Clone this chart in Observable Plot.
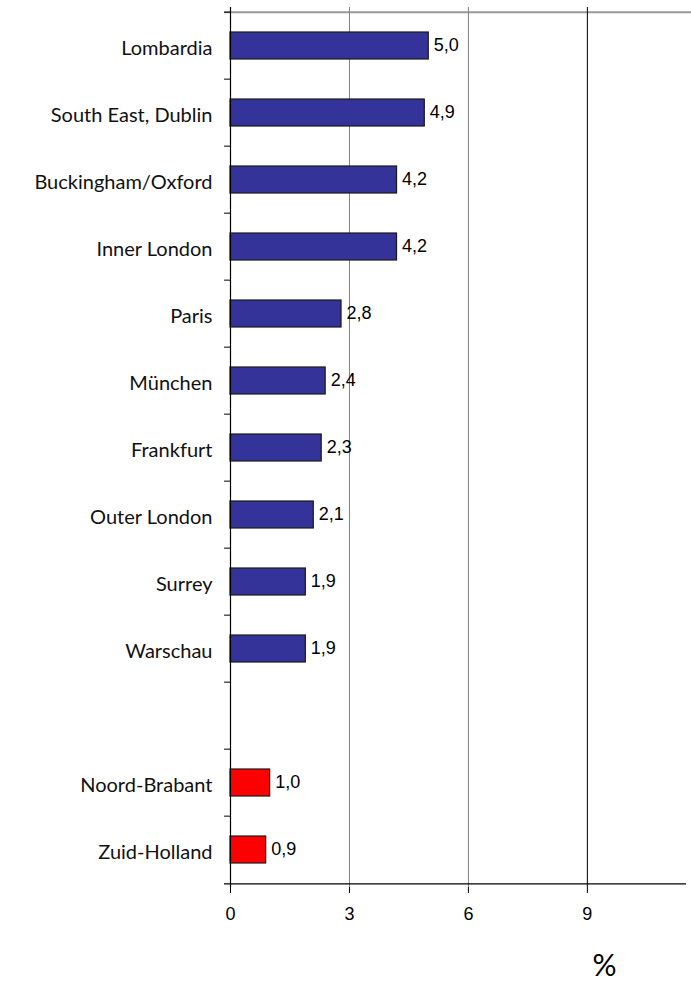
<!DOCTYPE html>
<html>
<head>
<meta charset="utf-8">
<script src="https://cdn.jsdelivr.net/npm/d3@7"></script>
<script src="https://cdn.jsdelivr.net/npm/@observablehq/plot@0.6"></script>
<style>
  html, body { margin: 0; padding: 0; background: #fff; }
  #chart svg { display: block; }
</style>
</head>
<body>
<div id="chart"></div>
<script>
// ---- data ----
const regions = ["Lombardia", "South East, Dublin", "Buckingham/Oxford", "Inner London", "Paris",
  "München", "Frankfurt", "Outer London", "Surrey", "Warschau", " ", "Noord-Brabant", "Zuid-Holland"];
const values = [5.0, 4.9, 4.2, 4.2, 2.8, 2.4, 2.3, 2.1, 1.9, 1.9, null, 1.0, 0.9];
const groups = ["eu", "eu", "eu", "eu", "eu", "eu", "eu", "eu", "eu", "eu", null, "nl", "nl"];
const xTicks = [0, 3, 6, 9];
const unitLabel = "%";

const groupColors = {eu: "#333399", nl: "#ff0000"};
const rows = regions.map((r, i) => ({region: r, value: values[i], group: groups[i]}))
  .filter(d => d.value != null);

const W = 691, H = 984, mt = 7, mb = 97, ml = 230, mr = 5;
const step = (H - mt - mb) / regions.length;
const fmt = v => d3.format(".1f")(v).replace(".", ",");

const chart = Plot.plot({
  width: W, height: H,
  marginTop: mt, marginBottom: mb, marginLeft: ml, marginRight: mr,
  style: {fontFamily: "'Liberation Sans', Arial, sans-serif", fontSize: "18px", color: "#000", background: "#fff"},
  x: {domain: [0, 11.5], ticks: xTicks, tickSize: 6, tickPadding: 14, label: null, tickFormat: d => String(d)},
  y: {domain: regions, paddingInner: 0.6, paddingOuter: 0.3, axis: null},
  color: {type: "identity"},
  marks: [
    // top border
    Plot.ruleY([regions[0]], {x1: -0.15, x2: 11.65, dy: -step / 2, stroke: "#999", strokeWidth: 2}),
    // gridlines
    Plot.ruleX(xTicks.filter(t => t > 0), {stroke: d => d === 9 ? "#000" : "#808080", strokeWidth: 1}),
    // bars
    Plot.barX(rows, {x: "value", y: "region", fill: d => groupColors[d.group], stroke: "#1a1a1a", strokeWidth: 1.2}),
    // value labels
    Plot.text(rows, {x: "value", y: "region", text: d => fmt(d.value), dx: 5, dy: -1, textAnchor: "start", fontSize: 18}),
    // category labels
    Plot.text(regions, {x: 0, y: d => d, text: d => d, dx: -18, dy: 3, textAnchor: "end",
      fontFamily: "Lato, 'Open Sans', sans-serif", fontSize: 20, letterSpacing: 0.35, fill: "#111"}),
    // y tick marks at slot boundaries
    Plot.ruleY(regions, {x1: -0.15, x2: 0, dy: -step / 2, stroke: "#000"}),
    // x axis line (plus bottom tick)
    Plot.ruleY([regions[regions.length - 1]], {x1: -0.15, x2: 11.5, dy: step / 2, stroke: "#000", strokeWidth: 1.2}),
    // y axis line
    Plot.ruleX([0], {stroke: "#000", strokeWidth: 1.2}),
    // unit label
    Plot.text([unitLabel], {frameAnchor: "bottom-right", dx: -82, dy: 79, lineAnchor: "middle",
      textAnchor: "middle", fontSize: 30, fontFamily: "Lato, sans-serif", text: d => d})
  ]
});
document.getElementById("chart").append(chart);
</script>
</body>
</html>
